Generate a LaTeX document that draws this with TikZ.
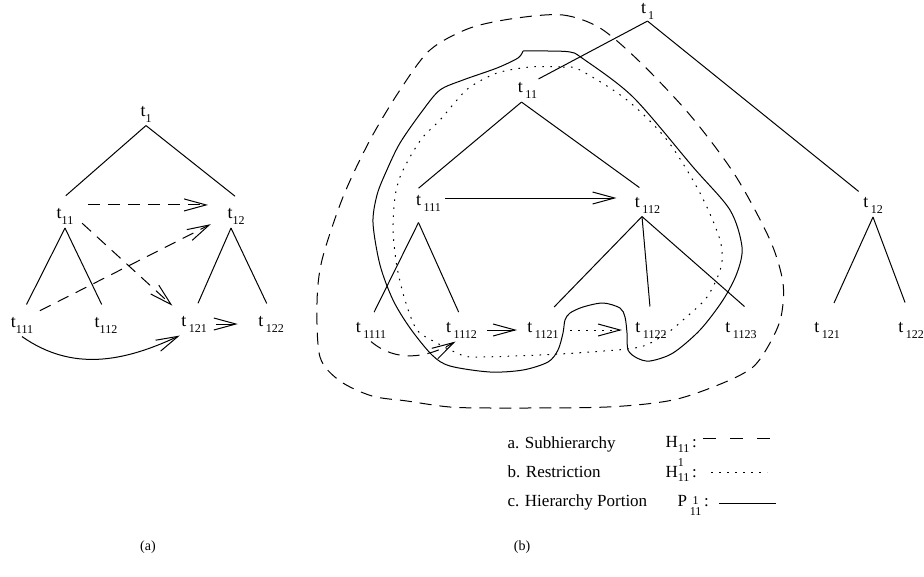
\documentclass[tikz,border=0pt]{standalone}
\usepackage{fontspec}
\setmainfont{Liberation Serif}
\usetikzlibrary{arrows.meta}
\newcommand{\subfont}{\fontsize{12}{12}\selectfont}
\newcommand{\tlab}[2][0pt]{t\kern#1\raisebox{-6pt}{\subfont #2}}

\begin{document}
\begin{tikzpicture}[x=1pt,y=1pt,
    every node/.style={font=\fontsize{18}{20}\selectfont, inner xsep=1pt, inner ysep=3pt},
    legend/.style={font=\fontsize{17}{19}\selectfont, anchor=base west, inner sep=0pt},
    branch/.style={shorten >=#1}, branch/.default=10pt,
    link/.style={-{Straight Barb[length=22pt,width=12pt]}},
    subh/.style={dash pattern=on 12pt off 8pt},
    restr/.style={dash pattern=on 1.6pt off 6.4pt},
    line width=1pt
]
    \useasboundingbox (0,0) rectangle (924,-576);

    % (a)
    \node (t1a) at (146,-114) {\tlab{1}};
    \node (t11a) at (65,-216.5) {\tlab{11}};
    \node (t12a) at (236,-216.5) {\tlab{12}};
    \node (t111a) at (22,-325) {\tlab{111}};
    \node (t112a) at (106,-325) {\tlab{112}};
    \node (t121a) at (194,-324) {\tlab[2.5pt]{121}};
    \node (t122a) at (271,-324) {\tlab[2.5pt]{122}};

    \draw[branch=14pt] (t1a.south) -- (t11a.north west);
    \draw[branch=14pt] (t1a.south) -- (t12a.north east);
    \draw[branch] (t11a.south) -- (t111a.north);
    \draw[branch] (t11a.south) -- (t112a.north);
    \draw[branch] ([xshift=-5pt]t12a.south) -- (t121a.north);
    \draw[branch] ([xshift=-5pt]t12a.south) -- (t122a.north);

    \draw[link,subh,shorten <=13pt,shorten >=18pt] (t11a.north east) -- (t12a.north west);
    \draw[link,subh,shorten <=10pt,shorten >=10pt] (t11a.east) -- (t121a.north west);
    \draw[link,subh,shorten <=6pt,shorten >=17pt] (t111a.north east) -- (t12a.west);
    \draw[link,shorten <=8pt,shorten >=19pt] (t121a.east) -- (t122a.west);
    \draw[link] (t111a.south) to[out=-35,in=-155] (t121a.south west);

    % (b)
    \node (t1b) at (647.5,-11.5) {\tlab[2pt]{1}};
    \node (t11b) at (527.5,-90.5) {\tlab[2.5pt]{11}};
    \node (t12b) at (873,-205.5) {\tlab[2.5pt]{12}};
    \node (t111b) at (428.5,-203) {\tlab[2.5pt]{111}};
    \node (t112b) at (647.5,-205) {\tlab[2.5pt]{112}};
    \node (t121b) at (827,-330) {\tlab[2.5pt]{121}};
    \node (t122b) at (911,-330) {\tlab[2.5pt]{122}};
    \node (t1111b) at (371,-330) {\tlab[2.5pt]{1111}};
    \node (t1112b) at (461.5,-330) {\tlab[2.5pt]{1112}};
    \node (t1121b) at (543,-330) {\tlab[2.5pt]{1121}};
    \node (t1122b) at (651,-330) {\tlab[2.5pt]{1122}};
    \node (t1123b) at (741,-330) {\tlab[2.5pt]{1123}};

    \draw[branch=0pt] ([yshift=2pt]t1b.south) -- (t11b.north east);
    \draw[branch=4pt] ([yshift=2pt]t1b.south) -- (t12b.north west);
    \draw[branch=5pt] ([xshift=-6pt]t11b.south) -- (t111b.north west);
    \draw[branch] ([xshift=-6pt]t11b.south) -- (t112b.north);
    \draw[branch=7pt] ([xshift=-10pt,yshift=-8pt]t111b.south) -- (t1111b.north);
    \draw[branch=7pt] ([xshift=-10pt,yshift=-8pt]t111b.south) -- (t1112b.north);
    \draw[branch=16pt] ([xshift=-5.5pt]t112b.south) -- (t1121b.north);
    \draw[branch=12pt] ([xshift=-5.5pt]t112b.south) -- (t1122b.north);
    \draw[branch=18pt] ([xshift=-5.5pt]t112b.south) -- (t1123b.north east);
    \draw[branch=17pt] (t12b.south) -- (t121b.north);
    \draw[branch=17pt] (t12b.south) -- (t122b.north);

    \draw[link,shorten <=3pt,shorten >=17pt] ([yshift=5pt]t111b.east) -- ([yshift=7pt]t112b.west);
    \draw[link,shorten <=9pt,shorten >=9pt] (t1112b.east) -- (t1121b.west);
    \draw[link,restr,shorten <=10pt,shorten >=12pt] (t1121b.east) -- (t1122b.west);
    \draw[link,subh] (t1111b.south) to[out=-40,in=-150] ([xshift=-6pt]t1112b.south);

    \draw[subh] plot[smooth cycle] coordinates {(517,-18) (563,-15) (600,-28) (640,-62)
        (690,-115) (735,-175) (770,-240) (783,-283) (781,-317) (770,-343) (753,-367)
        (723,-383) (673,-400) (607,-407) (500,-408) (450,-407) (407,-401) (372,-396)
        (340,-381) (320,-357) (317,-303) (322,-260) (343,-197) (370,-140) (400,-90)
        (430,-50) (470,-28)};
    \draw[restr] plot[smooth cycle] coordinates {(530,-67) (563,-67) (580,-70) (627,-100)
        (667,-140) (700,-193) (720,-240) (721,-267) (707,-297) (683,-320) (667,-333)
        (640,-347) (590,-352) (540,-355) (473,-357) (457,-353) (437,-343) (417,-330)
        (405,-300) (397,-267) (393,-230) (395,-197) (400,-177) (410,-157) (423,-137)
        (440,-120) (457,-100) (470,-87) (497,-73)};
    \draw plot[smooth] coordinates {(523,-51) (548,-51) (570,-52) (582,-58) (633,-97)
        (693,-167) (730,-210) (742,-247) (737,-273) (723,-300) (700,-330) (673,-353)
        (650,-361) (637,-358) (628,-350) (627,-333) (625,-317) (620,-308) (603,-303)
        (583,-307) (570,-313) (565,-320) (563,-333) (558,-350) (548,-362) (523,-370)
        (490,-372) (450,-366) (432,-355) (410,-328) (393,-300) (380,-265) (373,-223)
        (377,-195) (386,-172) (400,-143) (423,-110) (440,-90) (463,-80) (497,-68)
        (518,-58) (523,-51)};

    % legend
    \node[legend] (laba) at (507,-448) {a. Subhierarchy};
    \node[legend] (labb) at (507,-477) {b. Restriction};
    \node[legend] (labc) at (507,-506) {c. Hierarchy Portion};
    \node[legend] (syma) at (665,-447) {H\raisebox{-5pt}{\subfont 11}\,:};
    \node[legend] (symb) at (665,-477) {H\raisebox{-4pt}{\subfont\shortstack[l]{1\\[4pt]11}}\,:};
    \node[legend] (symc) at (677,-506) {P\,\raisebox{-9pt}{\subfont\shortstack{1\\11}}\,:};
    \draw[dash pattern=on 13pt off 14pt] ([xshift=6pt,yshift=9pt]syma.base east) -- ++(68,0);
    \draw[restr] ([xshift=14pt,yshift=5pt]symb.base east) -- ++(56,0);
    \draw ([xshift=10pt,yshift=3pt]symc.base east) -- ++(57,0);

    \node[font=\fontsize{14}{16}\selectfont] (capa) at (148,-547) {(a)};
    \node[font=\fontsize{14}{16}\selectfont] (capb) at (522,-547) {(b)};
\end{tikzpicture}
\end{document}
